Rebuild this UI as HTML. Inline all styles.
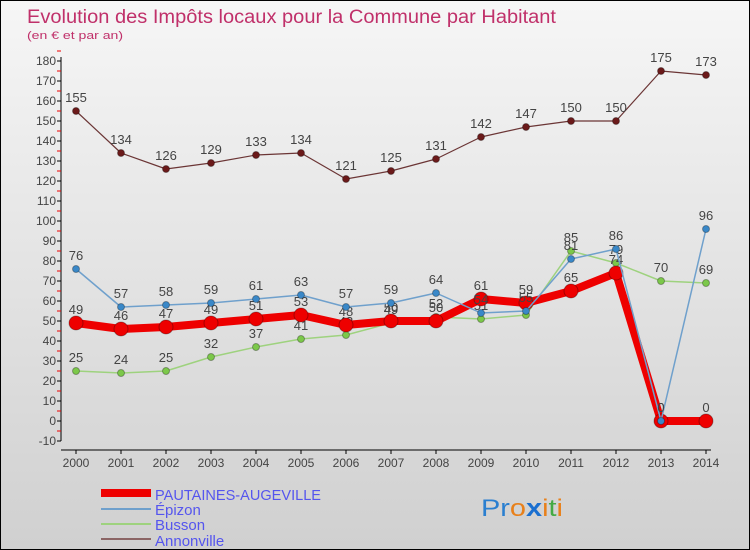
<!DOCTYPE html>
<html><head><meta charset="utf-8"><style>
body{margin:0}
#c{width:748px;height:548px;border:1px solid #000;background:linear-gradient(#f6f6f6,#d0d0d0);position:relative;overflow:hidden;font-family:"Liberation Sans","DejaVu Sans",sans-serif}
</style></head><body>
<div id="c">
<svg id="s" width="748" height="548">
<text x="26" y="22" font-size="19" fill="#c0306a" textLength="529" lengthAdjust="spacingAndGlyphs">Evolution des Impôts locaux pour la Commune par Habitant</text>
<text x="26" y="38" font-size="11" fill="#c0306a" textLength="96" lengthAdjust="spacingAndGlyphs">(en € et par an)</text>
<g id="ax"></g><g id="ser"></g>
<g font-size="15" fill="#5555ee">
<rect x="100" y="488" width="50" height="8" fill="#e00"/>
<text x="154" y="499" textLength="166" lengthAdjust="spacingAndGlyphs">PAUTAINES-AUGEVILLE</text>
<rect x="100" y="507" width="50" height="2" fill="#6fa0cc"/>
<text x="154" y="514">Épizon</text>
<rect x="100" y="522" width="50" height="2" fill="#9ed27e"/>
<text x="154" y="529">Busson</text>
<rect x="100" y="537" width="50" height="2" fill="#8b6565"/>
<text x="154" y="545">Annonville</text>
</g>
<text x="480" y="515" font-size="24" textLength="82" lengthAdjust="spacingAndGlyphs"><tspan fill="#2a7fd0">Pr</tspan><tspan fill="#e8801a">o</tspan><tspan fill="#1a6fd0" font-weight="bold">x</tspan><tspan fill="#e8801a">i</tspan><tspan fill="#4a4">t</tspan><tspan fill="#e8801a">i</tspan></text>
</svg></div>
<script>
const years=[2000,2001,2002,2003,2004,2005,2006,2007,2008,2009,2010,2011,2012,2013,2014];
const yTicks=[-10,0,10,20,30,40,50,60,70,80,90,100,110,120,130,140,150,160,170,180];
const pautaines=[49,46,47,49,51,53,48,50,50,61,59,65,74,0,0];
const epizon=[76,57,58,59,61,63,57,59,64,54,55,81,86,0,96];
const busson=[25,24,25,32,37,41,43,49,52,51,53,85,79,70,69];
const annonville=[155,134,126,129,133,134,121,125,131,142,147,150,150,175,173];
const NS="http://www.w3.org/2000/svg";
const X=i=>75+i*45, Y=v=>420-2*v;
function mk(t,a,p){const e=document.createElementNS(NS,t);for(const k in a)e.setAttribute(k,a[k]);p.appendChild(e);return e;}
const ax=document.getElementById('ax'),ser=document.getElementById('ser');
let l=mk('line',{x1:60,y1:Y(-10),x2:60,y2:Y(182),stroke:'#000'},ax);

l=mk('line',{x1:60,y1:449,x2:710,y2:449,stroke:'#000'},ax);

yTicks.forEach(v=>{
 mk('line',{x1:56,y1:Y(v),x2:60,y2:Y(v),stroke:'#000'},ax);
 mk('line',{x1:56,y1:Y(v+5),x2:60,y2:Y(v+5),stroke:'#e00'},ax);
 const t=mk('text',{x:55,y:Y(v)+4,'font-size':12,'text-anchor':'end',fill:'#444'},ax);t.textContent=v;
 
});
years.forEach((y,i)=>{
 mk('line',{x1:X(i),y1:449,x2:X(i),y2:453,stroke:'#000'},ax);
 const t=mk('text',{x:X(i),y:466,'font-size':12,'text-anchor':'middle',fill:'#444'},ax);t.textContent=y;
 
});
function draw(d,name,col,dot,w,r){
 const g=mk('g',{},ser);
 const p=mk('polyline',{points:d.map((v,i)=>X(i)+','+Y(v)).join(' '),fill:'none',stroke:col,'stroke-width':w,'stroke-linejoin':'round'},g);
 
 d.forEach((v,i)=>{
  const c=mk('circle',{cx:X(i),cy:Y(v),r:r,fill:dot,stroke:'rgba(0,0,0,0.3)'},g);
  
  const t=mk('text',{x:X(i),y:Y(v)-9,'font-size':13,'text-anchor':'middle',fill:'#444'},g);t.textContent=v;
  
 });
}
draw(annonville,'annonville','#6b3535','#6b1a1a',1.2,3.5);
draw(busson,'busson','#9ed27e','#7cc84a',1.5,3.5);
draw(pautaines,'pautaines','#e00','#e00',8,7);
draw(epizon,'epizon','#6fa0cc','#3a88c8',1.5,3.5);
</script>
</body></html>
